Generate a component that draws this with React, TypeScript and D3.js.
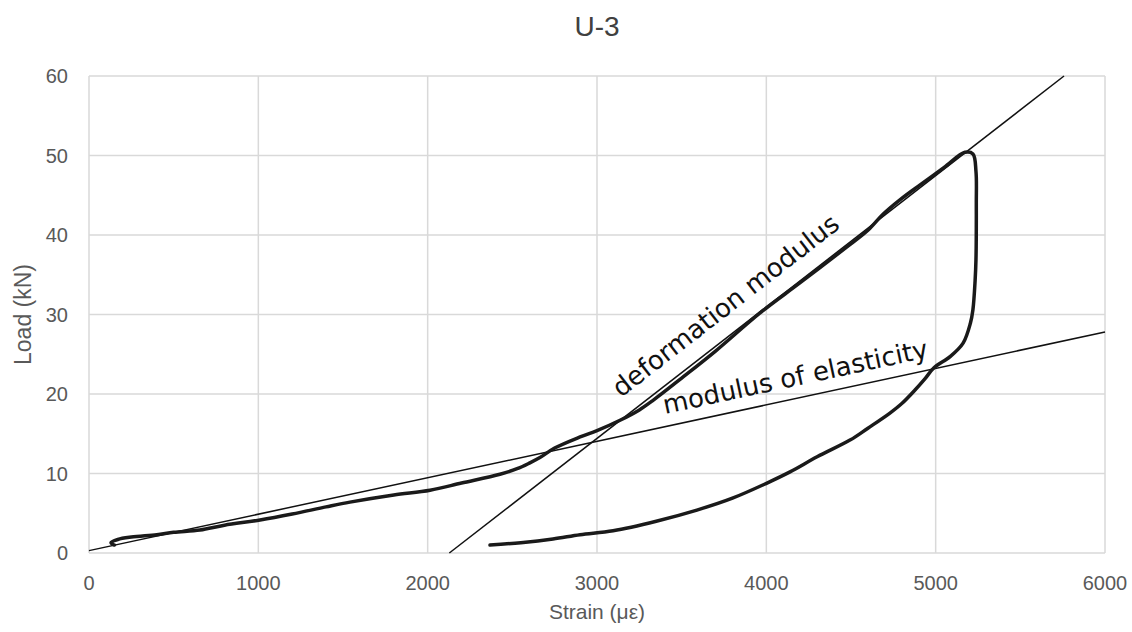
import React from 'react';
import * as d3 from 'd3';

// load-strain curve of specimen U-3 (strain in με, load in kN)
const strain = [150, 130, 170, 250, 400, 500, 655, 800, 1010, 1200, 1400, 1541, 1800, 2014, 2200, 2427, 2528, 2600, 2663, 2750, 2900, 3000, 3136, 3250, 3331, 3500, 3700, 3963, 4200, 4476, 4600, 4689, 4800, 4908, 5050, 5173, 5220,
  5238, 5240, 5238, 5233, 5220, 5205, 5162, 5085, 4990, 4940, 4878, 4800, 4730, 4600, 4494, 4300, 4140, 4004, 3800, 3590, 3350, 3095, 2900, 2740, 2550, 2368];
const load = [1.0, 1.3, 1.7, 2.0, 2.3, 2.6, 2.9, 3.5, 4.15, 4.9, 5.8, 6.4, 7.3, 7.9, 8.8, 9.9, 10.6, 11.3, 12.0, 13.2, 14.6, 15.4, 16.7, 18.0, 19.2, 22.0, 25.4, 30.2, 34.0, 38.5, 40.6, 42.6, 44.6, 46.3, 48.5, 50.4, 50.2,
  48, 44, 36.9, 34.3, 30.6, 28.9, 26.4, 24.7, 23.3, 22, 20.5, 18.8, 17.6, 15.7, 14.2, 12.1, 10.2, 8.8, 6.9, 5.4, 4.0, 2.8, 2.3, 1.76, 1.3, 1.0];

// fitted lines: [strain, load] end points
const deformationLine = [[2128, 0], [5758, 60]];
const elasticityLine = [[0, 0.3], [6000, 27.8]];

const xTicks = [0, 1000, 2000, 3000, 4000, 5000, 6000];
const yTicks = [0, 10, 20, 30, 40, 50, 60];

const W = 1132, H = 632;
const margin = {top: 76, right: 27, bottom: 79, left: 89};

export default function App() {
  const x = d3.scaleLinear().domain([0, 6000]).range([margin.left, W - margin.right]);
  const y = d3.scaleLinear().domain([0, 60]).range([H - margin.bottom, margin.top]);

  const pts = strain.map((s, i) => [s, load[i]]);
  const straight = d3.line().x(d => x(d[0])).y(d => y(d[1]));
  const curve = d3.line().x(d => x(d[0])).y(d => y(d[1])).curve(d3.curveCatmullRom.alpha(0.5));

  const tickFont = '"Liberation Sans", Arial, sans-serif';
  const noteFont = '"DejaVu Sans", Verdana, sans-serif';

  // label angles follow the drawn lines in pixel space
  const ang = (l) => Math.atan2(y(l[1][1]) - y(l[0][1]), x(l[1][0]) - x(l[0][0])) * 180 / Math.PI;

  return (
    <div style={{position: 'absolute', left: 0, top: 0}}>
      <svg width={W} height={H} style={{display: 'block', background: '#fff'}}>
        {/* grid */}
        {xTicks.map(t => (
          <line key={'gx' + t} x1={x(t)} x2={x(t)} y1={y(0)} y2={y(60)} stroke="#d9d9d9" strokeWidth={1.5} />
        ))}
        {yTicks.map(t => (
          <line key={'gy' + t} x1={x(0)} x2={x(6000)} y1={y(t)} y2={y(t)} stroke="#d9d9d9" strokeWidth={1.5} />
        ))}

        {/* tick labels */}
        {xTicks.map(t => (
          <text key={'tx' + t} x={x(t)} y={y(0) + 37} textAnchor="middle" fontFamily={tickFont} fontSize={20} fill="#595959">{t}</text>
        ))}
        {yTicks.map(t => (
          <text key={'ty' + t} x={x(0) - 21} y={y(t) + 7} textAnchor="end" fontFamily={tickFont} fontSize={20} fill="#595959">{t}</text>
        ))}

        {/* title and axis titles */}
        <text x={(x(0) + x(6000)) / 2} y={36} textAnchor="middle" fontFamily={tickFont} fontSize={28} fill="#404040">U-3</text>
        <text x={(x(0) + x(6000)) / 2} y={619} textAnchor="middle" fontFamily={tickFont} fontSize={21} fill="#595959">Strain (με)</text>
        <text transform={`translate(31,${(y(0) + y(60)) / 2}) rotate(-90)`} textAnchor="middle" fontFamily={tickFont} fontSize={23} fill="#595959">Load (kN)</text>

        {/* fitted lines */}
        <path d={straight(deformationLine)} fill="none" stroke="#111" strokeWidth={1.5} />
        <path d={straight(elasticityLine)} fill="none" stroke="#111" strokeWidth={1.5} />

        {/* measured curve */}
        <path d={curve(pts)} fill="none" stroke="#1a1a1a" strokeWidth={3.5} strokeLinejoin="round" strokeLinecap="round" />

        {/* annotations */}
        <text transform={`translate(621,398) rotate(${ang(deformationLine)})`} fontFamily={noteFont} fontSize={26} fill="#111">deformation modulus</text>
        <text transform={`translate(665,414) rotate(${ang(elasticityLine)})`} fontFamily={noteFont} fontSize={26} fill="#111">modulus of elasticity</text>
      </svg>
    </div>
  );
}
